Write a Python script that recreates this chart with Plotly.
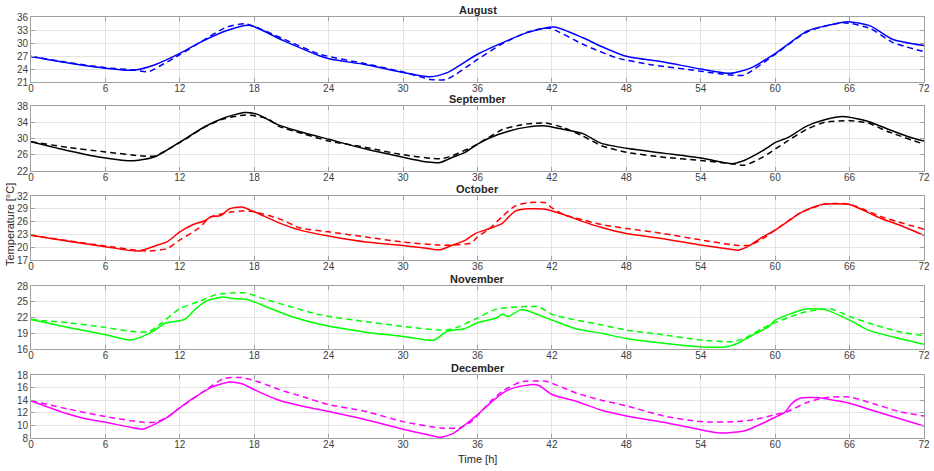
import plotly.graph_objects as go

months = ["August", "September", "October", "November", "December"]
colors = ["#0000ff", "#000000", "#ff0000", "#00ff00", "#ff00ff"]
y_ranges = [[21, 36], [22, 38], [17, 32], [16, 28], [8, 18]]
y_dticks = [3, 4, 3, 3, 2]
x_ticks = list(range(0, 73, 6))

# August
aug_t_solid = [0, 3, 6, 8.2, 10, 12, 13.6, 15.8, 17.6, 20.3, 23.3, 24.1, 27, 30, 32.2, 33.5, 36, 37.8, 40, 42.2, 44.5, 45.9, 47.9, 51, 54, 56.4, 58, 59.9, 62.6, 64, 65.9, 67.7, 69.5, 72]
aug_v_solid = [26.9, 25.4, 24.2, 23.7, 25.0, 27.6, 30.1, 32.9, 34.1, 30.6, 27.0, 26.3, 25.0, 23.2, 22.2, 23.1, 27.4, 29.8, 32.4, 33.7, 31.2, 29.3, 27.0, 25.6, 24.0, 23.0, 24.2, 27.4, 32.8, 33.9, 34.9, 33.9, 30.8, 29.4]
aug_t_dash = [0, 3, 6, 8.2, 9.5, 10.4, 12, 13.6, 15.8, 17.3, 20.3, 23.3, 27, 30, 32.2, 33.5, 36, 37.8, 40, 41.8, 44.5, 47.2, 50, 54, 56.4, 57.5, 59.9, 62.6, 65.5, 67.7, 69.5, 72]
aug_v_dash = [26.9, 25.5, 24.3, 23.8, 23.4, 24.7, 27.3, 30.1, 33.7, 34.4, 31.0, 27.4, 25.2, 23.3, 21.6, 21.6, 26.2, 29.5, 32.5, 33.4, 29.7, 26.6, 25.0, 23.5, 22.6, 22.6, 27.2, 32.6, 34.7, 33.3, 30.1, 28.0]

# September
sep_t_solid = [0, 3, 6, 8.3, 10, 12, 14, 15.5, 17.2, 18.2, 20, 22, 24, 27, 30, 32, 33, 34, 35, 36, 37, 38.5, 40, 41.5, 43, 44.5, 46, 48, 51, 54, 56, 56.5, 57.5, 59, 60, 61, 62.5, 64, 65.5, 67.5, 69, 71, 72]
sep_v_solid = [29.2, 27.0, 25.2, 24.5, 25.5, 29.1, 32.9, 35.0, 36.4, 36.0, 33.3, 31.4, 29.8, 27.4, 25.4, 24.2, 24.1, 25.4, 26.6, 28.6, 30.2, 31.8, 32.8, 33.1, 32.2, 31.2, 28.8, 27.6, 26.4, 25.2, 24.0, 23.8, 24.6, 27.0, 29.0, 30.2, 33.0, 34.6, 35.4, 34.2, 32.4, 30.2, 29.4]
sep_t_dash = [0, 3, 6, 9, 10, 12, 14, 15.5, 17.3, 19, 20, 22, 24, 27, 30, 33, 34, 36, 38, 40, 41.5, 43, 44.5, 46, 48, 51, 54, 56.5, 57.5, 59, 60, 61, 62.5, 64, 66, 67.5, 69, 72]
sep_v_dash = [29.2, 27.8, 26.7, 25.7, 25.7, 29.0, 32.8, 34.8, 35.8, 35.0, 33.0, 31.1, 29.4, 27.8, 26.0, 25.0, 25.8, 28.6, 32.2, 33.6, 33.8, 32.6, 30.6, 28.2, 26.6, 25.4, 24.6, 23.8, 23.4, 25.4, 27.4, 29.4, 32.2, 34.0, 34.4, 33.8, 31.8, 28.6]

# October
oct_t_solid = [0, 3, 6, 8.7, 10, 11, 12, 13, 14, 14.5, 15.3, 16, 17, 18, 20, 21.7, 24, 27, 30, 32, 33, 34, 35, 35.8, 37, 38, 39, 40, 41.5, 42, 43, 44.5, 46, 48, 51, 54, 56, 57, 58, 59, 60, 61, 62, 63, 64, 66, 67, 68.5, 70, 72]
oct_v_solid = [22.8, 21.4, 20.1, 19.1, 20.3, 21.3, 23.6, 25.2, 26.2, 27.1, 27.4, 29.0, 29.4, 28.3, 25.7, 24.0, 22.6, 21.2, 20.4, 19.7, 19.4, 20.5, 21.6, 23.2, 24.4, 25.6, 28.4, 29.0, 28.9, 28.5, 27.6, 26.0, 24.6, 23.2, 22.0, 20.5, 19.7, 19.3, 20.5, 22.4, 24.0, 26.0, 28.0, 29.3, 30.1, 30.0, 28.8, 26.8, 25.2, 22.8]
oct_t_dash = [0, 3, 6, 9.3, 11, 12, 13.5, 14.5, 16.3, 17, 18, 20, 21.7, 24, 27, 30, 33, 34, 35.5, 36, 37, 38, 39, 40, 41.5, 42, 43, 44.5, 46, 48, 51, 54, 57, 58, 59, 60, 62, 64, 66, 68.5, 72]
oct_v_dash = [22.8, 21.5, 20.3, 19.1, 19.7, 21.7, 24.4, 27.1, 28.3, 28.5, 28.3, 26.7, 24.5, 23.6, 22.4, 21.2, 20.5, 20.5, 21.0, 22.4, 24.4, 27.2, 29.6, 30.4, 30.4, 29.2, 27.6, 26.4, 25.3, 24.4, 23.2, 21.7, 20.4, 20.5, 22.0, 24.0, 28.0, 30.1, 30.1, 27.2, 24.2]

# November
nov_t_solid = [0, 3, 6, 8, 9, 10, 10.8, 12, 12.5, 13.3, 14.3, 15.5, 16.3, 17.5, 19, 21, 23.3, 27, 30, 32.5, 33.5, 35, 36, 37.5, 38, 38.5, 39.5, 40, 42, 44, 46, 48, 51, 54, 56, 57, 58, 59.5, 60, 61, 62.5, 64, 66, 67.5, 70, 72]
nov_v_solid = [21.6, 20.1, 18.7, 17.7, 18.4, 19.6, 20.9, 21.4, 21.8, 23.7, 25.3, 25.9, 25.6, 25.4, 24.0, 22.2, 20.7, 19.2, 18.4, 17.7, 19.3, 19.9, 21.0, 21.9, 22.6, 22.2, 23.5, 23.3, 21.5, 19.8, 19.0, 18.0, 17.1, 16.4, 16.4, 17.1, 18.4, 20.3, 21.5, 22.5, 23.6, 23.5, 21.5, 19.6, 18.0, 16.9]
nov_t_dash = [0, 3, 6, 8, 9.5, 10.5, 12, 13.5, 15, 16.5, 17.3, 19, 21, 23.3, 27, 30, 33, 34, 36, 37.5, 40, 41, 42, 44, 46, 48, 51, 54, 56.5, 57.5, 59, 60.5, 62.5, 64.5, 66, 68, 70, 72]
nov_v_dash = [21.6, 21.0, 20.1, 19.4, 19.3, 20.9, 23.7, 25.0, 26.4, 26.7, 26.7, 25.4, 24.0, 22.5, 21.2, 20.3, 19.6, 19.8, 21.9, 23.6, 24.1, 24.0, 22.6, 21.5, 20.6, 19.6, 18.7, 17.7, 17.4, 18.0, 20.0, 21.5, 23.1, 23.6, 22.2, 20.6, 19.3, 18.5]

# December
dec_t_solid = [0, 3, 4.5, 6, 8, 9, 10, 11, 12, 13, 14.5, 16, 17, 18.5, 20, 22, 24, 27, 30, 32, 33, 34, 35, 36, 37, 38, 39, 40.5, 41, 42, 44, 46, 48, 51, 54, 55.5, 57.5, 58.5, 60, 60.8, 61.3, 62, 63.5, 65, 66, 68, 70, 72]
dec_v_solid = [13.9, 11.8, 11.0, 10.5, 9.7, 9.4, 10.2, 11.3, 12.8, 14.2, 16.0, 16.9, 16.6, 15.2, 14.0, 13.0, 12.2, 10.9, 9.4, 8.5, 8.1, 8.7, 10.1, 11.7, 13.5, 15.1, 16.0, 16.5, 16.3, 14.9, 13.8, 12.4, 11.5, 10.5, 9.3, 8.8, 9.1, 9.9, 11.3, 12.1, 13.4, 14.3, 14.4, 13.9, 13.5, 12.3, 11.1, 9.9]
dec_t_dash = [0, 3, 6, 9, 10, 11, 12, 14, 15.5, 17, 18.5, 20, 22, 24, 27, 30, 33, 34.5, 35.5, 37, 38, 39.5, 41.5, 42.5, 44, 46, 48, 51, 54, 57, 58.5, 60, 61, 62.5, 64, 66, 68, 70, 72]
dec_v_dash = [13.9, 12.6, 11.4, 10.5, 10.5, 11.3, 12.8, 15.5, 17.4, 17.6, 16.8, 15.7, 14.5, 13.3, 12.2, 10.6, 9.6, 9.6, 10.6, 13.7, 15.4, 16.9, 17.0, 16.3, 15.1, 14.0, 13.1, 11.5, 10.6, 10.6, 11.0, 11.7, 12.2, 13.6, 14.4, 14.5, 13.4, 12.2, 11.5]

solid = [(aug_t_solid, aug_v_solid), (sep_t_solid, sep_v_solid), (oct_t_solid, oct_v_solid),
         (nov_t_solid, nov_v_solid), (dec_t_solid, dec_v_solid)]
dashed = [(aug_t_dash, aug_v_dash), (sep_t_dash, sep_v_dash), (oct_t_dash, oct_v_dash),
          (nov_t_dash, nov_v_dash), (dec_t_dash, dec_v_dash)]

W, H = 934, 471
# panel pixel extents (top, bottom)
panels_px = [(17, 82), (106, 171), (196, 260), (286, 349), (375, 438)]

fig = go.Figure()
font_family = "Liberation Sans, Arial, sans-serif"
axis_color = "#a0a0a0"
grid_color = "#e3e3e3"
tick_font = dict(family=font_family, size=10, color="#404040")

layout = dict(
    width=W, height=H,
    margin=dict(l=31, r=10, t=0, b=0, autoexpand=False),
    paper_bgcolor="white", plot_bgcolor="white",
    showlegend=False,
    font=dict(family=font_family),
)
annotations = []
for i in range(5):
    n = "" if i == 0 else str(i + 1)
    top, bot = panels_px[i]
    dom = [1 - bot / H, 1 - top / H]
    layout["xaxis" + n] = dict(
        domain=[0, 1], range=[0, 72], anchor="y" + n,
        tickvals=x_ticks, ticks="inside", ticklen=4, tickcolor=axis_color,
        showline=True, linecolor=axis_color, linewidth=1, mirror="ticks",
        showgrid=True, gridcolor=grid_color, gridwidth=1, zeroline=False,
        tickfont=tick_font, ticklabelstandoff=-3,
    )
    layout["yaxis" + n] = dict(
        domain=dom, range=y_ranges[i], anchor="x" + n, dtick=y_dticks[i],
        tick0=y_ranges[i][0], ticks="inside", ticklen=4, tickcolor=axis_color,
        showline=True, linecolor=axis_color, linewidth=1, mirror="ticks",
        showgrid=True, gridcolor=grid_color, gridwidth=1, zeroline=False,
        tickfont=tick_font,
    )
    ts, vs = solid[i]
    td, vd = dashed[i]
    fig.add_trace(go.Scatter(x=ts, y=vs, mode="lines", xaxis="x" + n, yaxis="y" + n,
                             line=dict(color=colors[i], width=1.5, shape="spline", smoothing=0.6)))
    fig.add_trace(go.Scatter(x=td, y=vd, mode="lines", xaxis="x" + n, yaxis="y" + n,
                             line=dict(color=colors[i], width=1.5, dash="6px,4px", shape="spline", smoothing=0.6)))
    annotations.append(dict(
        text="<b>" + months[i] + "</b>", x=0.5, y=dom[1], xref="paper", yref="paper",
        xanchor="center", yanchor="bottom", showarrow=False, yshift=-1,
        font=dict(family=font_family, size=11, color="#262626"),
    ))

annotations.append(dict(
    text="Time [h]", x=0.5, y=1 - 459 / H, xref="paper", yref="paper",
    xanchor="center", yanchor="middle", showarrow=False,
    font=dict(family=font_family, size=11, color="#262626"),
))
annotations.append(dict(
    text="Temperature [°C]", x=(10 - 31) / (W - 41), y=1 - 225 / H, xref="paper", yref="paper",
    xanchor="center", yanchor="middle", showarrow=False, textangle=-90,
    font=dict(family=font_family, size=11, color="#262626"),
))
layout["annotations"] = annotations
fig.update_layout(**layout)
fig.write_html(
    "out.html",
    config={"displayModeBar": False},
    post_script="document.body.style.margin='0px';document.body.style.padding='0px';document.body.style.overflow='hidden';",
)
